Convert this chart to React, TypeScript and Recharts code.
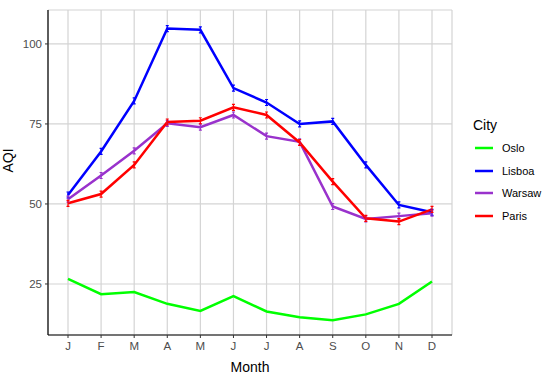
import { LineChart, Line, XAxis, YAxis, CartesianGrid } from 'recharts';

const months = ['J', 'F', 'M', 'A', 'M', 'J', 'J', 'A', 'S', 'O', 'N', 'D'];
const oslo = [26.6, 21.8, 22.5, 18.8, 16.6, 21.2, 16.4, 14.6, 13.7, 15.5, 18.8, 25.8];
const lisboa = [52.8, 66.4, 82.2, 104.8, 104.4, 86.2, 81.7, 75.0, 75.8, 62.2, 49.7, 47.4];
const warsaw = [51.5, 58.9, 66.6, 75.2, 74.0, 77.8, 71.2, 69.4, 49.2, 45.3, 46.2, 47.1];
const paris = [50.2, 53.1, 62.2, 75.6, 76.0, 80.2, 77.8, 69.2, 57.0, 45.5, 44.5, 48.3];
const yTicks = [25, 50, 75, 100];

const cities = [
  { key: 'Oslo', color: '#00ff00', marks: false },
  { key: 'Lisboa', color: '#0000ff', marks: true },
  { key: 'Warsaw', color: '#9932cc', marks: true },
  { key: 'Paris', color: '#ff0000', marks: true },
];

const data = months.map((m, i) => ({
  idx: i,
  month: m,
  Oslo: oslo[i],
  Lisboa: lisboa[i],
  Warsaw: warsaw[i],
  Paris: paris[i],
}));

const font = '"Liberation Sans", Arial, sans-serif';

// small errorbar-like tick at each point
const Tick = (props: any) => {
  const { cx, cy, stroke } = props;
  if (cx == null || cy == null) return null;
  return (
    <path
      d={`M${cx},${cy - 3}V${cy + 3}M${cx - 1.5},${cy - 3}H${cx + 1.5}M${cx - 1.5},${cy + 3}H${cx + 1.5}`}
      stroke={stroke}
      strokeWidth={1.2}
      fill="none"
    />
  );
};

const LegendBox = () => (
  <div style={{ position: 'absolute', left: 473, top: 117, fontFamily: font }}>
    <div style={{ fontSize: 14, lineHeight: '16px', color: '#000', marginBottom: 4 }}>City</div>
    {cities.map((c) => (
      <div key={c.key} style={{ display: 'flex', alignItems: 'center', height: 22.5 }}>
        <svg width={18} height={6} style={{ marginLeft: 2, marginRight: 9 }}>
          <line x1={0} y1={3} x2={18} y2={3} stroke={c.color} strokeWidth={2.5} />
        </svg>
        <span style={{ fontSize: 11, color: '#000' }}>{c.key}</span>
      </div>
    ))}
  </div>
);

export default function App() {
  return (
    <div style={{ position: 'absolute', left: 0, top: 0, width: 550, height: 376, background: '#fff' }}>
      <LineChart
        width={550}
        height={376}
        data={data}
        margin={{ top: 10, right: 98, bottom: 0, left: 0 }}
        style={{ fontFamily: font }}
      >
        <CartesianGrid stroke="#d4d4d4" strokeWidth={1.2} />
        <XAxis
          dataKey="idx"
          type="category"
          tickFormatter={(v: number) => months[v]}
          padding={{ left: 20, right: 20 }}
          height={41}
          axisLine={{ stroke: '#000', strokeWidth: 1.2 }}
          tickLine={{ stroke: '#333' }}
          tickSize={3}
          tickMargin={4}
          tick={{ fill: '#4d4d4d', fontSize: 11.5 }}
          interval={0}
          label={{ value: 'Month', position: 'insideBottom', offset: 4, fill: '#000', fontSize: 14 }}
        />
        <YAxis
          domain={[9.06, 110.6]}
          ticks={yTicks}
          width={48}
          axisLine={{ stroke: '#000', strokeWidth: 1.2 }}
          tickLine={{ stroke: '#333' }}
          tickSize={3}
          tickMargin={3}
          tick={{ fill: '#4d4d4d', fontSize: 11.5 }}
          allowDataOverflow
          label={{ value: 'AQI', angle: -90, position: 'insideLeft', offset: 8, fill: '#000', fontSize: 14 }}
        />
        {cities.map((c) => (
          <Line
            key={c.key}
            dataKey={c.key}
            stroke={c.color}
            strokeWidth={2.5}
            dot={c.marks ? <Tick /> : false}
            activeDot={false}
            isAnimationActive={false}
          />
        ))}
      </LineChart>
      <LegendBox />
    </div>
  );
}
